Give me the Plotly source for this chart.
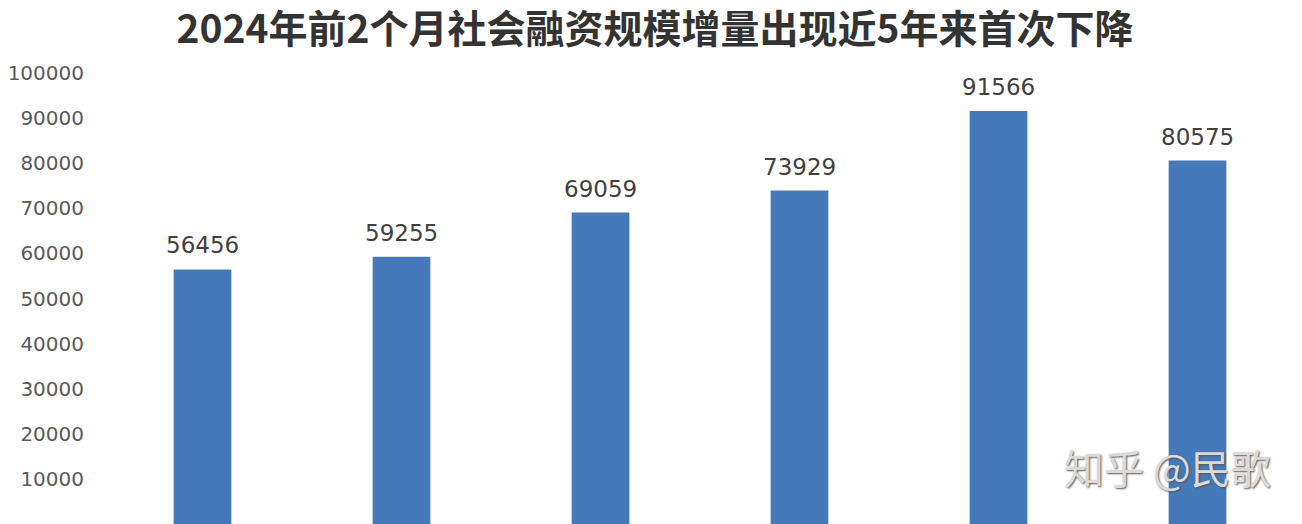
import plotly.graph_objects as go

categories = ["2019年", "2020年", "2021年", "2022年", "2023年", "2024年"]
values = [56456, 59255, 69059, 73929, 91566, 80575]
y_ticks = [0, 10000, 20000, 30000, 40000, 50000, 60000, 70000, 80000, 90000, 100000]
title_text = "2024年前2个月社会融资规模增量出现近5年来首次下降"
watermark = "知乎 @民歌"

fig = go.Figure()
fig.add_trace(go.Bar(
    x=categories, y=values,
    marker=dict(color="#4679b9", line=dict(width=0)),
    hoverinfo="x+y",
))

annotations = [
    dict(x=c, y=v, text=str(v), xref="x", yref="y", showarrow=False,
         xanchor="center", yanchor="bottom", yshift=9,
         font=dict(family="DejaVu Sans", size=23, color="#404040"))
    for c, v in zip(categories, values)
]
annotations.append(dict(text=watermark, xref="paper", yref="paper", x=0.8915, y=0.126,
                        xanchor="center", yanchor="middle", showarrow=False,
                        font=dict(family="Noto Sans CJK SC", size=40, color="#dadada",
                                  shadow="1px 1px 2px #555")))

fig.update_layout(
    width=1294, height=516,
    margin=dict(l=95, r=5, t=65, b=0),
    paper_bgcolor="white", plot_bgcolor="white",
    bargap=0.71,
    showlegend=False,
    title=dict(text=title_text, x=0.5, xanchor="center", y=0.958, yanchor="middle",
               font=dict(family="Noto Sans CJK SC", size=39, color="#333333", weight="bold")),
    xaxis=dict(showticklabels=False, showgrid=False, zeroline=False, showline=False, ticks=""),
    yaxis=dict(range=[0, 100000], tickvals=y_ticks, ticktext=[str(t) for t in y_ticks],
               showgrid=False, zeroline=False, showline=False,
               tickfont=dict(family="DejaVu Sans", size=20, color="#595959"),
               ticklabelstandoff=18),
    annotations=annotations,
)

fig.write_html("out.html")
